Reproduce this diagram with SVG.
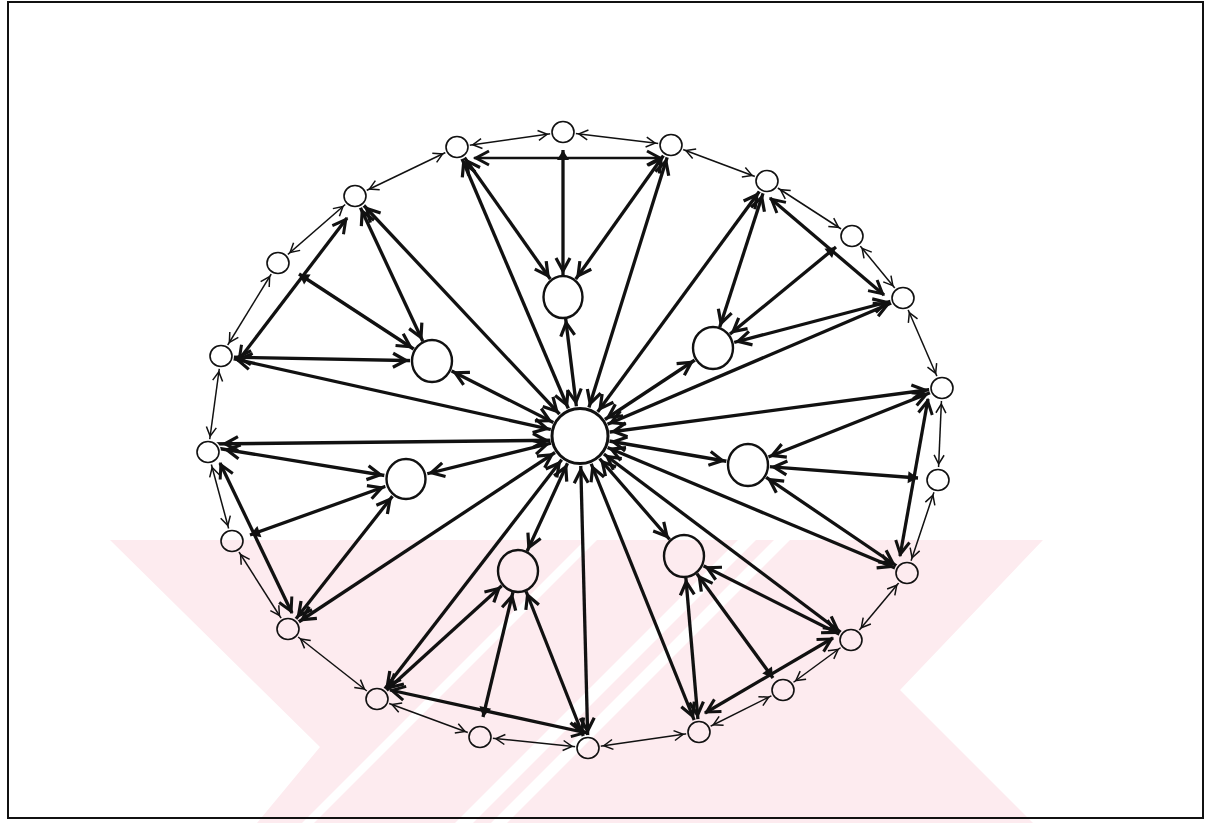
<svg xmlns="http://www.w3.org/2000/svg" width="1211" height="823" viewBox="0 0 1211 823">
<style>
.k{stroke:#111;stroke-width:3.3;fill:none}
.m{stroke:#111;stroke-width:2.6;fill:none}
.n{stroke:#111;stroke-width:1.5;fill:none}
.ah{fill:none;stroke:#111;stroke-linejoin:miter;stroke-linecap:butt}
.os{fill:none;stroke:#111;stroke-width:1.6}
.om{fill:none;stroke:#111;stroke-width:2.4}
.oc{fill:none;stroke:#111;stroke-width:3}
.wm{fill:#fdebef;stroke:none}
.ws{fill:#fff;stroke:none}
</style>
<defs>
<marker id="aS" markerUnits="userSpaceOnUse" orient="auto-start-reverse" refX="37" refY="10" markerWidth="26" markerHeight="20" overflow="visible"><path class="ah" stroke-width="3.2" d="M7,3 L20,10 L7,17"/></marker>
<marker id="aM" markerUnits="userSpaceOnUse" orient="auto-start-reverse" refX="46" refY="10" markerWidth="26" markerHeight="20" overflow="visible"><path class="ah" stroke-width="3.2" d="M7,3 L20,10 L7,17"/></marker>
<marker id="aC" markerUnits="userSpaceOnUse" orient="auto-start-reverse" refX="54" refY="10" markerWidth="26" markerHeight="20" overflow="visible"><path class="ah" stroke-width="3.2" d="M7,3 L20,10 L7,17"/></marker>
<marker id="aZ" markerUnits="userSpaceOnUse" orient="auto-start-reverse" refX="22" refY="10" markerWidth="26" markerHeight="20" overflow="visible"><path class="ah" stroke-width="3" d="M7,3 L20,10 L7,17"/></marker>
<marker id="aF" markerUnits="userSpaceOnUse" orient="auto-start-reverse" refX="20" refY="10" markerWidth="26" markerHeight="20" overflow="visible"><path fill="#111" d="M10,4 L20,10 L10,16 Z"/></marker>
<marker id="nS" markerUnits="userSpaceOnUse" orient="auto-start-reverse" refX="36" refY="10" markerWidth="26" markerHeight="20" overflow="visible"><path class="ah" stroke-width="1.5" d="M11,5 L20,10 L11,15"/></marker>
<clipPath id="wmclip"><polygon points="110,540 1043,540 900,690 1033,823 257,823 320,747"/></clipPath>
<mask id="holes" maskUnits="userSpaceOnUse" x="0" y="0" width="1211" height="823">
<rect x="0" y="0" width="1211" height="823" fill="#fff"/>
<g fill="#000">
<circle cx="580" cy="436" r="30"/>
<circle cx="563" cy="297" r="22"/><circle cx="432" cy="361" r="22"/><circle cx="713" cy="348" r="22"/><circle cx="748" cy="465" r="22"/><circle cx="406" cy="479" r="22"/><circle cx="518" cy="571" r="22"/><circle cx="684" cy="556" r="22"/>
<circle cx="563" cy="132" r="13"/><circle cx="671" cy="145" r="13"/><circle cx="767" cy="181" r="13"/><circle cx="852" cy="236" r="13"/><circle cx="903" cy="298" r="13"/><circle cx="942" cy="388" r="13"/><circle cx="938" cy="480" r="13"/><circle cx="907" cy="573" r="13"/><circle cx="851" cy="640" r="13"/><circle cx="783" cy="690" r="13"/><circle cx="699" cy="732" r="13"/><circle cx="588" cy="748" r="13"/><circle cx="480" cy="737" r="13"/><circle cx="377" cy="699" r="13"/><circle cx="288" cy="629" r="13"/><circle cx="232" cy="541" r="13"/><circle cx="208" cy="452" r="13"/><circle cx="221" cy="356" r="13"/><circle cx="278" cy="263" r="13"/><circle cx="355" cy="196" r="13"/><circle cx="457" cy="147" r="13"/>
</g>
</mask>
</defs>
<rect x="0" y="0" width="1211" height="823" fill="#fff"/>
<g id="watermark">
<polygon class="wm" points="110,540 1043,540 900,690 1033,823 257,823 320,747"/>
<g clip-path="url(#wmclip)">
<polygon class="ws" points="585,540 597,540 314,823 302,823"/>
<polygon class="ws" points="738,540 756,540 473,823 455,823"/>
<polygon class="ws" points="774,540 790,540 507,823 491,823"/>
</g>
</g>
<rect id="frame" x="8" y="2" width="1195" height="816" fill="none" stroke="#111" stroke-width="2"/>
<g id="connectors" mask="url(#holes)">
<line class="m" x1="474" y1="158" x2="662" y2="158" marker-start="url(#aZ)" marker-end="url(#aZ)"/>
<line class="k" x1="563" y1="150" x2="563" y2="297" marker-start="url(#aF)" marker-end="url(#aM)"/>
<line class="k" x1="457" y1="147" x2="563" y2="297" marker-start="url(#aS)" marker-end="url(#aM)"/>
<line class="k" x1="671" y1="145" x2="563" y2="297" marker-start="url(#aS)" marker-end="url(#aM)"/>
<line class="k" x1="457" y1="147" x2="580" y2="436" marker-start="url(#aS)" marker-end="url(#aC)"/>
<line class="k" x1="671" y1="145" x2="580" y2="436" marker-start="url(#aS)" marker-end="url(#aC)"/>
<line class="k" x1="563" y1="297" x2="580" y2="436" marker-start="url(#aM)" marker-end="url(#aC)"/>
<line class="k" x1="770" y1="198" x2="884" y2="295" marker-start="url(#aZ)" marker-end="url(#aZ)"/>
<line class="k" x1="836" y1="247" x2="713" y2="348" marker-start="url(#aF)" marker-end="url(#aM)"/>
<line class="k" x1="767" y1="181" x2="713" y2="348" marker-start="url(#aS)" marker-end="url(#aM)"/>
<line class="k" x1="903" y1="298" x2="713" y2="348" marker-start="url(#aS)" marker-end="url(#aM)"/>
<line class="k" x1="767" y1="181" x2="580" y2="436" marker-start="url(#aS)" marker-end="url(#aC)"/>
<line class="k" x1="903" y1="298" x2="580" y2="436" marker-start="url(#aS)" marker-end="url(#aC)"/>
<line class="k" x1="713" y1="348" x2="580" y2="436" marker-start="url(#aM)" marker-end="url(#aC)"/>
<line class="k" x1="928" y1="399" x2="900" y2="556" marker-start="url(#aZ)" marker-end="url(#aZ)"/>
<line class="k" x1="918" y1="478" x2="748" y2="465" marker-start="url(#aF)" marker-end="url(#aM)"/>
<line class="k" x1="942" y1="388" x2="748" y2="465" marker-start="url(#aS)" marker-end="url(#aM)"/>
<line class="k" x1="907" y1="573" x2="748" y2="465" marker-start="url(#aS)" marker-end="url(#aM)"/>
<line class="k" x1="942" y1="388" x2="580" y2="436" marker-start="url(#aS)" marker-end="url(#aC)"/>
<line class="k" x1="907" y1="573" x2="580" y2="436" marker-start="url(#aS)" marker-end="url(#aC)"/>
<line class="k" x1="748" y1="465" x2="580" y2="436" marker-start="url(#aM)" marker-end="url(#aC)"/>
<line class="k" x1="705" y1="713" x2="833" y2="638" marker-start="url(#aZ)" marker-end="url(#aZ)"/>
<line class="k" x1="773" y1="678" x2="684" y2="556" marker-start="url(#aF)" marker-end="url(#aM)"/>
<line class="k" x1="699" y1="732" x2="684" y2="556" marker-start="url(#aS)" marker-end="url(#aM)"/>
<line class="k" x1="851" y1="640" x2="684" y2="556" marker-start="url(#aS)" marker-end="url(#aM)"/>
<line class="k" x1="851" y1="640" x2="580" y2="436" marker-start="url(#aS)" marker-end="url(#aC)"/>
<line class="k" x1="699" y1="732" x2="580" y2="436" marker-start="url(#aS)" marker-end="url(#aC)"/>
<line class="k" x1="684" y1="556" x2="580" y2="436" marker-start="url(#aM)" marker-end="url(#aC)"/>
<line class="k" x1="390" y1="690" x2="587" y2="733" marker-start="url(#aZ)" marker-end="url(#aZ)"/>
<line class="k" x1="483" y1="717" x2="518" y2="571" marker-start="url(#aF)" marker-end="url(#aM)"/>
<line class="k" x1="377" y1="699" x2="518" y2="571" marker-start="url(#aS)" marker-end="url(#aM)"/>
<line class="k" x1="588" y1="748" x2="518" y2="571" marker-start="url(#aS)" marker-end="url(#aM)"/>
<line class="k" x1="377" y1="699" x2="580" y2="436" marker-start="url(#aS)" marker-end="url(#aC)"/>
<line class="k" x1="588" y1="748" x2="580" y2="436" marker-start="url(#aS)" marker-end="url(#aC)"/>
<line class="k" x1="518" y1="571" x2="580" y2="436" marker-start="url(#aM)" marker-end="url(#aC)"/>
<line class="k" x1="220" y1="463" x2="292" y2="613" marker-start="url(#aZ)" marker-end="url(#aZ)"/>
<line class="k" x1="250" y1="535" x2="406" y2="479" marker-start="url(#aF)" marker-end="url(#aM)"/>
<line class="k" x1="210" y1="447" x2="406" y2="479" marker-start="url(#aS)" marker-end="url(#aM)"/>
<line class="k" x1="288" y1="629" x2="406" y2="479" marker-start="url(#aS)" marker-end="url(#aM)"/>
<line class="k" x1="208" y1="444" x2="580" y2="440" marker-start="url(#aS)" marker-end="url(#aC)"/>
<line class="k" x1="288" y1="629" x2="580" y2="436" marker-start="url(#aS)" marker-end="url(#aC)"/>
<line class="k" x1="406" y1="479" x2="580" y2="436" marker-start="url(#aM)" marker-end="url(#aC)"/>
<line class="k" x1="347" y1="218" x2="238" y2="361" marker-start="url(#aZ)" marker-end="url(#aZ)"/>
<line class="k" x1="299" y1="274" x2="432" y2="361" marker-start="url(#aF)" marker-end="url(#aM)"/>
<line class="k" x1="221" y1="357" x2="432" y2="361" marker-start="url(#aS)" marker-end="url(#aM)"/>
<line class="k" x1="355" y1="196" x2="432" y2="361" marker-start="url(#aS)" marker-end="url(#aM)"/>
<line class="k" x1="221" y1="356" x2="580" y2="436" marker-start="url(#aS)" marker-end="url(#aC)"/>
<line class="k" x1="355" y1="196" x2="580" y2="436" marker-start="url(#aS)" marker-end="url(#aC)"/>
<line class="k" x1="432" y1="361" x2="580" y2="436" marker-start="url(#aM)" marker-end="url(#aC)"/>
<g marker-start="url(#nS)" marker-end="url(#nS)">
<line class="n" x1="563" y1="132" x2="671" y2="145"/>
<line class="n" x1="671" y1="145" x2="767" y2="181"/>
<line class="n" x1="767" y1="181" x2="852" y2="236"/>
<line class="n" x1="852" y1="236" x2="903" y2="298"/>
<line class="n" x1="903" y1="298" x2="942" y2="388"/>
<line class="n" x1="942" y1="388" x2="938" y2="480"/>
<line class="n" x1="938" y1="480" x2="907" y2="573"/>
<line class="n" x1="907" y1="573" x2="851" y2="640"/>
<line class="n" x1="851" y1="640" x2="783" y2="690"/>
<line class="n" x1="783" y1="690" x2="699" y2="732"/>
<line class="n" x1="699" y1="732" x2="588" y2="748"/>
<line class="n" x1="588" y1="748" x2="480" y2="737"/>
<line class="n" x1="480" y1="737" x2="377" y2="699"/>
<line class="n" x1="377" y1="699" x2="288" y2="629"/>
<line class="n" x1="288" y1="629" x2="232" y2="541"/>
<line class="n" x1="232" y1="541" x2="208" y2="452"/>
<line class="n" x1="208" y1="452" x2="221" y2="356"/>
<line class="n" x1="221" y1="356" x2="278" y2="263"/>
<line class="n" x1="278" y1="263" x2="355" y2="196"/>
<line class="n" x1="355" y1="196" x2="457" y2="147"/>
<line class="n" x1="457" y1="147" x2="563" y2="132"/>
</g>
</g>
<g id="C"><ellipse class="oc" cx="580" cy="436" rx="28" ry="27.5"/></g>
<g id="M1"><ellipse class="om" cx="563" cy="297" rx="19.5" ry="21"/></g>
<g id="M2"><ellipse class="om" cx="432" cy="361" rx="20" ry="21"/></g>
<g id="M3"><ellipse class="om" cx="713" cy="348" rx="20" ry="21"/></g>
<g id="M4"><ellipse class="om" cx="748" cy="465" rx="20" ry="21"/></g>
<g id="M5"><ellipse class="om" cx="406" cy="479" rx="19.5" ry="20"/></g>
<g id="M6"><ellipse class="om" cx="518" cy="571" rx="20" ry="21"/></g>
<g id="M7"><ellipse class="om" cx="684" cy="556" rx="20" ry="21"/></g>
<g id="o1"><ellipse class="os" cx="563" cy="132" rx="11" ry="10.5"/></g>
<g id="o2"><ellipse class="os" cx="671" cy="145" rx="11" ry="10.5"/></g>
<g id="o3"><ellipse class="os" cx="767" cy="181" rx="11" ry="10.5"/></g>
<g id="o4"><ellipse class="os" cx="852" cy="236" rx="11" ry="10.5"/></g>
<g id="o5"><ellipse class="os" cx="903" cy="298" rx="11" ry="10.5"/></g>
<g id="o6"><ellipse class="os" cx="942" cy="388" rx="11" ry="10.5"/></g>
<g id="o7"><ellipse class="os" cx="938" cy="480" rx="11" ry="10.5"/></g>
<g id="o8"><ellipse class="os" cx="907" cy="573" rx="11" ry="10.5"/></g>
<g id="o9"><ellipse class="os" cx="851" cy="640" rx="11" ry="10.5"/></g>
<g id="o10"><ellipse class="os" cx="783" cy="690" rx="11" ry="10.5"/></g>
<g id="o11"><ellipse class="os" cx="699" cy="732" rx="11" ry="10.5"/></g>
<g id="o12"><ellipse class="os" cx="588" cy="748" rx="11" ry="10.5"/></g>
<g id="o13"><ellipse class="os" cx="480" cy="737" rx="11" ry="10.5"/></g>
<g id="o14"><ellipse class="os" cx="377" cy="699" rx="11" ry="10.5"/></g>
<g id="o15"><ellipse class="os" cx="288" cy="629" rx="11" ry="10.5"/></g>
<g id="o16"><ellipse class="os" cx="232" cy="541" rx="11" ry="10.5"/></g>
<g id="o17"><ellipse class="os" cx="208" cy="452" rx="11" ry="10.5"/></g>
<g id="o18"><ellipse class="os" cx="221" cy="356" rx="11" ry="10.5"/></g>
<g id="o19"><ellipse class="os" cx="278" cy="263" rx="11" ry="10.5"/></g>
<g id="o20"><ellipse class="os" cx="355" cy="196" rx="11" ry="10.5"/></g>
<g id="o21"><ellipse class="os" cx="457" cy="147" rx="11" ry="10.5"/></g>
</svg>
